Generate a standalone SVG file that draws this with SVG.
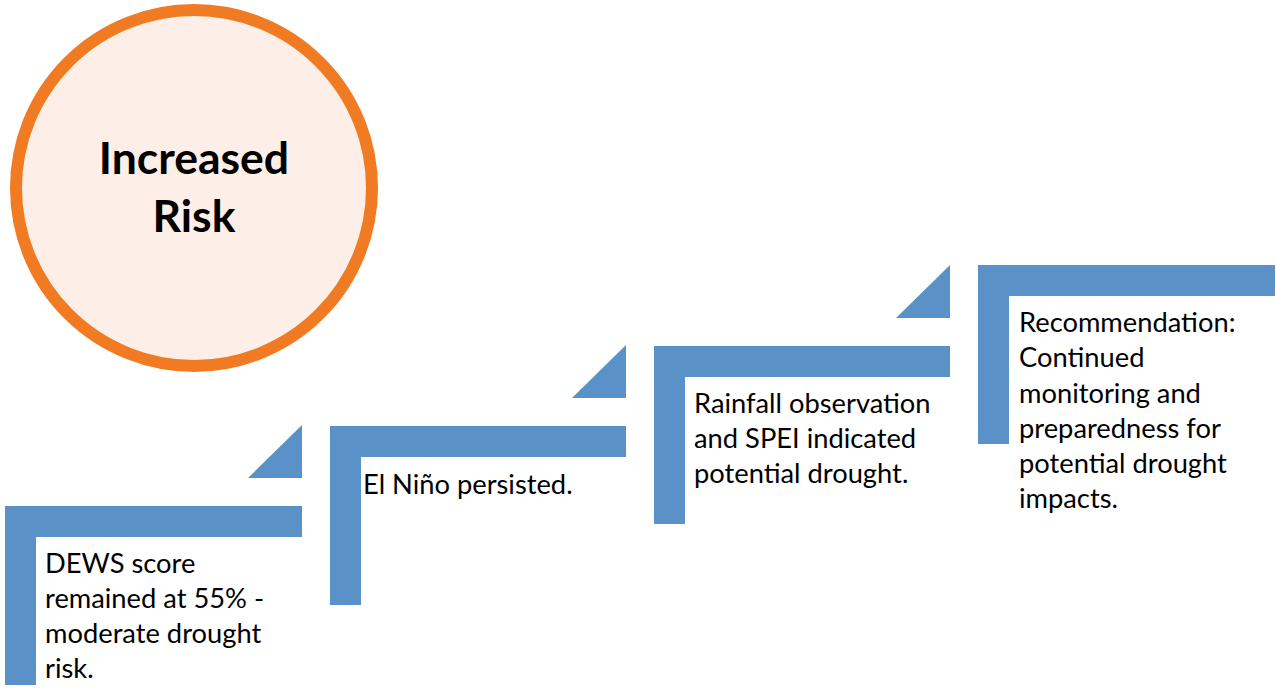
<svg xmlns="http://www.w3.org/2000/svg" width="1276" height="688" viewBox="0 0 1276 688">
<style>
.bar{fill:#5A92C8}
.t{font-family:Lato,"Open Sans",sans-serif;font-size:27.3px;fill:#000}
.h{font-family:Lato,"Open Sans",sans-serif;font-size:44.5px;font-weight:bold;fill:#000;text-anchor:middle}
</style>
<rect width="1276" height="688" fill="#fff"/>
<g id="risk">
<circle cx="194" cy="188" r="178" fill="#FDEFE8" stroke="#F07B22" stroke-width="12"/>
<text class="h" x="194" y="174">Increased</text>
<text class="h" x="194" y="232">Risk</text>
</g>
<g id="step1">
<polygon class="bar" points="302,425 302,478 248,478"/>
<polygon class="bar" points="5,506 302,506 302,537 36,537 36,685 5,685"/>
<text class="t" x="45" y="573">DEWS score</text>
<text class="t" x="45" y="608">remained at 55% -</text>
<text class="t" x="45" y="643">moderate drought</text>
<text class="t" x="45" y="678">risk.</text>
</g>
<g id="step2">
<polygon class="bar" points="626,345 626,398 572,398"/>
<polygon class="bar" points="330,426 626,426 626,457 361,457 361,605 330,605"/>
<text class="t" x="363" y="494">El Niño persisted.</text>
</g>
<g id="step3">
<polygon class="bar" points="950,265 950,318 896,318"/>
<polygon class="bar" points="654,346 950,346 950,377 685,377 685,524 654,524"/>
<text class="t" x="694" y="413">Rainfall observation</text>
<text class="t" x="694" y="448">and SPEI indicated</text>
<text class="t" x="694" y="483">potential drought.</text>
</g>
<g id="step4">
<polygon class="bar" points="978,265 1275,265 1275,296 1009,296 1009,444 978,444"/>
<text class="t" x="1019" y="332">Recommendation:</text>
<text class="t" x="1019" y="367">Continued</text>
<text class="t" x="1019" y="403">monitoring and</text>
<text class="t" x="1019" y="438">preparedness for</text>
<text class="t" x="1019" y="473">potential drought</text>
<text class="t" x="1019" y="508">impacts.</text>
</g>
<g id="connectors"/>
</svg>
